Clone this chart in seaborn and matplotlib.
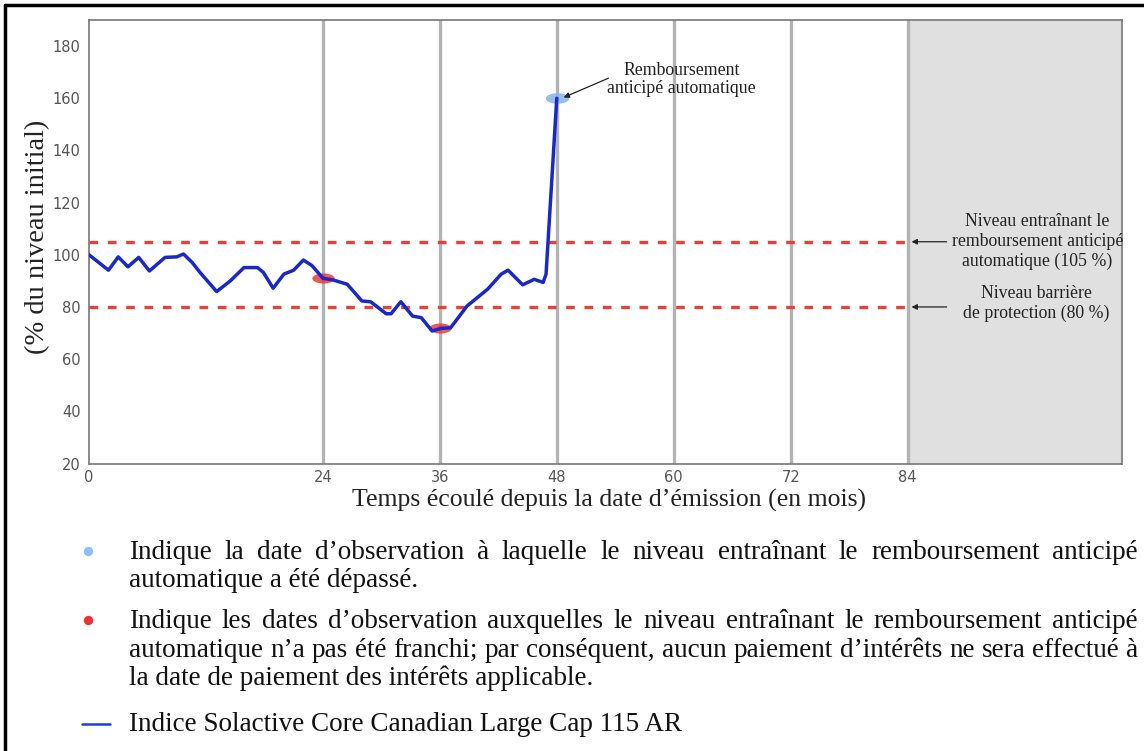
import numpy as np
import pandas as pd
import matplotlib
matplotlib.use("Agg")
import matplotlib.pyplot as plt
import seaborn as sns
from matplotlib.path import Path

# --- data ---
months = [0, 2.0, 3.0, 4.0, 5.1, 6.2, 7.8, 9.0, 9.7, 10.6, 11.4, 13.1, 14.5,
          15.9, 17.3, 17.9, 18.9, 20.0, 21.0, 22.0, 22.9, 24.0, 25.1, 26.5,
          28.0, 28.9, 30.5, 31.0, 32.0, 33.2, 34.1, 35.2, 36.1, 37.1, 38.8,
          40.9, 42.3, 43.0, 44.5, 45.7, 46.6, 46.9, 48.0]
levels = [100, 94.1, 99.2, 95.4, 99.0, 93.8, 99.0, 99.2, 100.3, 97.0, 93.2,
          85.9, 90.0, 95.1, 95.1, 93.2, 87.2, 92.6, 94.1, 98.0, 95.8, 91.0,
          90.3, 88.7, 82.3, 82.0, 77.4, 77.4, 82.0, 76.5, 75.9, 70.8, 71.8,
          72.0, 80.4, 86.8, 92.6, 94.1, 88.5, 90.6, 89.4, 92.6, 160]

missed_months = [24, 36]
missed_levels = [91, 72]
called_month = [48]
called_level = [160]

observation_months = [24, 36, 48, 60, 72, 84]
autocall_level = 105
barrier_level = 80
x_ticks = [0, 24, 36, 48, 60, 72, 84]
y_ticks = [20, 40, 60, 80, 100, 120, 140, 160, 180]

legend_lines = [
    ("Indique la date d’observation à laquelle le niveau entraînant le remboursement anticipé", True),
    ("automatique a été dépassé.", False),
    ("Indique les dates d’observation auxquelles le niveau entraînant le remboursement anticipé", True),
    ("automatique n’a pas été franchi; par conséquent, aucun paiement d’intérêts ne sera effectué à", True),
    ("la date de paiement des intérêts applicable.", False),
    ("Indice Solactive Core Canadian Large Cap 115 AR", False),
]

W, H = 1144, 751
SERIF = ["Liberation Serif", "DejaVu Serif"]

sns.set_style("white")
plt.rcParams['font.family'] = ['DejaVu Sans']

fig = plt.figure(figsize=(W / 100, H / 100), dpi=100)
ax = fig.add_axes([89 / W, 1 - 463.5 / H, (1122 - 89) / W, (463.5 - 20) / H])

# shaded area after maturity and observation dates
ax.axvspan(84, 106, color="#e0e0e0", zorder=0)
for m in observation_months:
    ax.axvline(m, color="#b3b3b3", lw=2.4, zorder=1)

# thresholds
for lvl in (autocall_level, barrier_level):
    ax.plot([0, 84], [lvl, lvl], color="#e8413c", lw=2.4, dashes=(2.6, 2.9), zorder=2)

df = pd.DataFrame({"mois": months, "niveau": levels})
sns.lineplot(data=df, x="mois", y="niveau", color="#1a28c8", lw=2.5,
             estimator=None, ax=ax, zorder=4)

# flattened ellipse marker
t = np.linspace(0, 2 * np.pi, 60)
ellipse = Path(np.column_stack([np.cos(t), 0.45 * np.sin(t)]), closed=True)

ax.scatter(missed_months, missed_levels, marker=ellipse, s=260,
           color="#ee3030", alpha=0.8, lw=0, zorder=3)
ax.scatter(called_month, called_level, marker=ellipse, s=280,
           color="#8ab6ee", alpha=0.9, lw=0, zorder=3)

ax.set_xlim(0, 106)
ax.set_ylim(20, 190)
ax.set_xticks(x_ticks)
ax.set_yticks(y_ticks)
ax.tick_params(axis="both", labelsize=10.5, labelcolor="#555555", color="#999999",
               length=3, width=0.8, pad=3)
ax.tick_params(axis="x", length=0, pad=5)
for sp in ax.spines.values():
    sp.set_color("#777777")
    sp.set_linewidth(1.2)

ax.set_xlabel("Temps écoulé depuis la date d’émission (en mois)",
              family=SERIF, fontsize=18.5, color="#222222")
ax.xaxis.set_label_coords(0.503, -0.058)
ax.set_ylabel("(% du niveau initial)", family=SERIF, fontsize=20.5, color="#222222")
ax.yaxis.set_label_coords(-0.038, 0.51)

# annotations
arrow = dict(arrowstyle="-|>", color="#222222", lw=0.9, mutation_scale=8,
             shrinkA=0, shrinkB=0)
ax.annotate("", xy=(48.7, 160.3), xytext=(53.3, 167.7), arrowprops=arrow)
ax.text(60.8, 167.2, "Remboursement\nanticipé automatique", family=SERIF,
        fontsize=12.8, ha="center", va="center", linespacing=1.1, color="#222222")
ax.annotate("", xy=(84.4, 105), xytext=(88.0, 105), arrowprops=arrow)
ax.annotate("", xy=(84.4, 80), xytext=(88.0, 80), arrowprops=arrow)
ax.text(97.3, 105, "Niveau entraînant le\nremboursement anticipé\nautomatique (105 %)",
        family=SERIF, fontsize=12.8, ha="center", va="center", linespacing=1.2,
        color="#222222")
ax.text(97.2, 81.2, "Niveau barrière\nde protection (80 %)",
        family=SERIF, fontsize=12.8, ha="center", va="center", linespacing=1.2,
        color="#222222")

# overlay axes in pixel units for the legend block and frame
ov = fig.add_axes([0, 0, 1, 1], facecolor="none")
ov.set_xlim(0, W)
ov.set_ylim(H, 0)
ov.axis("off")
ov.plot([5, 5], [5, H], color="black", lw=2.5)
ov.plot([5, W], [5, 5], color="black", lw=2.5)

ov.scatter([88], [551], s=45, color="#8cc0fb", lw=0)
ov.scatter([88], [620], s=45, color="#f03030", lw=0)
ov.plot([82, 110], [724, 724], color="#1a3cf0", lw=1.8)

baselines = [559, 587, 628, 657, 685, 731]
x_left, x_right = 129, 1138
fs_legend = 19.5
fig.canvas.draw()
renderer = fig.canvas.get_renderer()
for (line, justify), yb in zip(legend_lines, baselines):
    if not justify:
        ov.text(x_left, yb, line, family=SERIF, fontsize=fs_legend, va="baseline",
                ha="left", color="#111111")
        continue
    words = line.split(" ")
    texts = [ov.text(0, yb, w, family=SERIF, fontsize=fs_legend, va="baseline",
                     ha="left", color="#111111") for w in words]
    widths = [tx.get_window_extent(renderer).width for tx in texts]
    gap = (x_right - x_left - sum(widths)) / (len(words) - 1)
    x = x_left
    for tx, wd in zip(texts, widths):
        tx.set_x(x)
        x += wd + gap

fig.savefig("out.png", dpi=100)
